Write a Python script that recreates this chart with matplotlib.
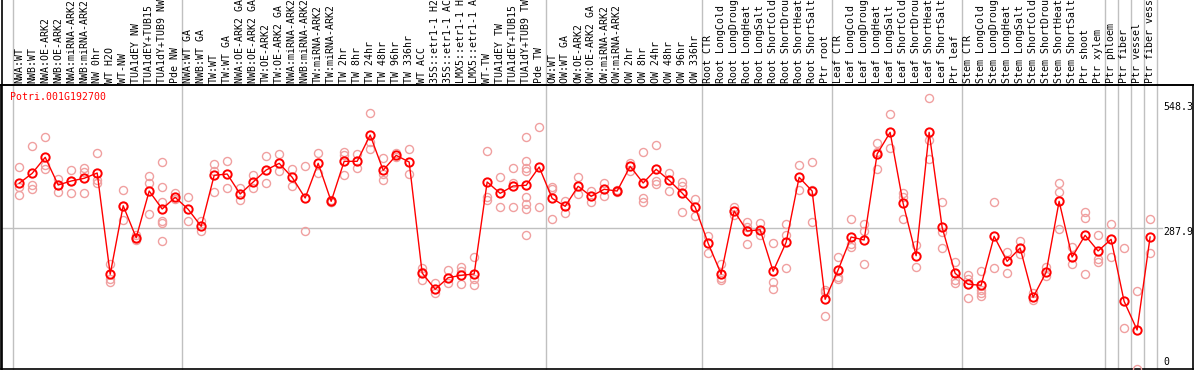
import numpy as np
import matplotlib
matplotlib.use("Agg")
import matplotlib.pyplot as plt
from matplotlib.lines import Line2D
import matplotlib.transforms as mtransforms

# ---- data ----
gene_id = "Potri.001G192700"

labels = [
    "NWA:WT", "NWB:WT", "NWA:OE-ARK2", "NWB:OE-ARK2", "NWA:miRNA-ARK2", "NWB:miRNA-ARK2",
    "NW 0hr", "WT H2O", "WT-NW", "TUA1dEY NW", "TUA1dEY+TUB15 NW", "TUA1dY+TUB9 NW", "Pde NW",
    "NWA:WT GA", "NWB:WT GA", "TW:WT", "TW:WT GA", "NWA:OE-ARK2 GA", "NWB:OE-ARK2 GA",
    "TW:OE-ARK2", "TW:OE-ARK2 GA", "NWA:miRNA-ARK2 GA", "NWB:miRNA-ARK2 GA", "TW:miRNA-ARK2",
    "TW:miRNA-ARK2 GA", "TW 2hr", "TW 8hr", "TW 24hr", "TW 48hr", "TW 96hr", "TW 336hr",
    "WT ACC", "35S::etr1-1 H2O", "35S::etr1-1 ACC", "LMX5::etr1-1 H2O", "LMX5::etr1-1 ACC",
    "WT-TW", "TUA1dEY TW", "TUA1dEY+TUB15 TW", "TUA1dY+TUB9 TW", "Pde TW",
    "OW:WT", "OW:WT GA", "OW:OE-ARK2", "OW:OE-ARK2 GA", "OW:miRNA-ARK2", "OW:miRNA-ARK2 GA",
    "OW 2hr", "OW 8hr", "OW 24hr", "OW 48hr", "OW 96hr", "OW 336hr",
    "Root CTR", "Root LongCold", "Root LongDrought", "Root LongHeat", "Root LongSalt",
    "Root ShortCold", "Root ShortDrought", "Root ShortHeat", "Root ShortSalt", "Ptr root",
    "Leaf CTR", "Leaf LongCold", "Leaf LongDrought", "Leaf LongHeat", "Leaf LongSalt",
    "Leaf ShortCold", "Leaf ShortDrought", "Leaf ShortHeat", "Leaf ShortSalt", "Ptr leaf",
    "Stem CTR", "Stem LongCold", "Stem LongDrought", "Stem LongHeat", "Stem LongSalt",
    "Stem ShortCold", "Stem ShortDrought", "Stem ShortHeat", "Stem ShortSalt", "Ptr shoot",
    "Ptr xylem", "Ptr phloem", "Ptr fiber", "Ptr vessel", "Ptr fiber vessel",
]

# number of samples in each group (grey separators between groups)
group_sizes = [13, 28, 12, 10, 10, 11, 1, 1, 1, 1]

means = [
    378.0, 398.0, 430.0, 374.6, 382.6, 388.0, 398.6, 195.7, 333.1, 269.0,
    362.5, 326.5, 349.9, 325.9, 291.8, 394.0, 396.6, 356.5, 380.6, 404.6,
    418.0, 390.0, 348.5, 418.0, 341.9, 422.0, 422.0, 474.7, 404.0, 434.0,
    420.6, 198.3, 165.6, 188.9, 193.7, 196.3, 380.6, 357.9, 372.6, 374.0,
    410.6, 347.9, 331.9, 372.0, 351.9, 366.0, 362.5, 412.0, 378.6, 406.0,
    384.0, 358.5, 330.5, 257.8, 196.3, 322.5, 282.4, 285.0, 201.7, 259.8,
    390.0, 362.5, 145.6, 204.3, 270.4, 264.4, 436.7, 480.1, 337.9, 232.9,
    480.1, 289.8, 197.7, 175.7, 173.7, 271.8, 221.7, 248.4, 149.6, 199.7,
    341.9, 230.3, 273.8, 242.4, 265.8, 141.6, 84.1, 270.4,
]

replicates = [
    [410.0, 370.0, 354.5], [452.7, 374.6, 366.0], [470.7, 414.0, 406.0],
    [386.6, 374.6, 361.1], [404.6, 382.6, 357.9], [409.2, 401.2, 357.9],
    [438.1, 384.6, 378.0], [216.3, 186.3, 180.9], [364.5, 332.5, 303.9],
    [274.4, 269.0, 264.4], [392.6, 378.0, 315.9],
    [420.6, 370.0, 340.5, 303.1, 297.8, 262.4],
    [357.9, 345.9], [351.1, 302.5], [303.1, 282.4], [416.6, 403.2, 359.9],
    [422.6, 368.0], [368.0, 344.5], [394.6, 368.0], [432.6, 378.0],
    [436.7, 402.6], [406.6, 373.2], [412.6, 282.4], [438.1, 399.2],
    [344.0, 341.0, 340.0], [441.3, 434.7, 394.6], [436.7, 408.0],
    [518.2, 460.1, 446.1], [428.0, 396.6, 384.0], [439.3, 431.2],
    [446.1, 396.6], [207.7, 200.9, 183.7], [178.9, 157.6], [204.3, 177.7],
    [209.7, 202.9, 175.7], [230.9, 185.7, 173.7], [442.7, 351.1, 344.5],
    [390.0, 329.9], [408.0, 379.2, 329.9],
    [470.1, 422.6, 408.0, 402.6, 351.1, 335.9, 325.9, 274.4],
    [490.1, 331.1], [371.2, 366.0, 305.9], [343.1, 319.1], [390.0, 355.9],
    [363.1, 341.1], [379.2, 353.1], [364.0, 362.0, 361.0], [419.2, 403.2],
    [440.1, 347.9, 341.1], [454.7, 382.6, 376.0], [399.2, 362.5],
    [381.2, 372.6, 319.9], [346.5, 313.1], [272.4, 239.0],
    [215.7, 188.3, 184.3], [329.9, 314.5], [301.1, 290.4, 255.8],
    [297.8, 274.4], [257.8, 180.9, 165.6], [296.4, 274.4, 207.7],
    [414.6, 364.5], [420.0, 364.5, 299.8], [164.2, 160.2, 111.6],
    [229.7, 190.9, 185.7], [306.5, 256.4, 249.8], [296.4, 282.4, 216.3],
    [458.1, 441.3, 406.0], [516.8, 448.1], [357.9, 351.1, 306.5],
    [254.4, 209.7], [548.3, 464.7, 426.0], [339.9, 281.0, 247.8],
    [220.9, 184.3, 178.9], [194.3, 185.7, 147.6],
    [202.9, 164.2, 157.6, 152.2], [339.9, 207.7], [239.8, 197.7],
    [262.4, 235.8], [157.6, 144.2], [210.9, 192.3], [378.0, 359.9, 285.8],
    [251.0, 215.7], [319.9, 307.9, 196.3], [274.4, 225.7, 219.7],
    [296.4, 229.7], [247.8, 87.5], [162.2, 5.4], [306.5, 237.8],
]

ytick_vals = [548.3, 287.9, 0]
ytick_text = ["548.3", "287.9", "0"]

# ---- figure ----
W, H = 1194, 370
fig = plt.figure(figsize=(W / 100, H / 100), dpi=100)
# plot box in pixels: x 1..1193, y 85..369 (from top)
ax = fig.add_axes([1 / W, 1 / H, 1192 / W, 284 / H])

mono = "DejaVu Sans Mono"
red = "#ff0000"
pink = "#f0a0a0"
grey = "#c0c0c0"

x = np.arange(len(means))

# replicates
for i, reps in enumerate(replicates):
    ax.plot([x[i]] * len(reps), reps, linestyle="none", marker="o", ms=5.8,
            mfc="none", mec=pink, mew=1.0, zorder=3)

# mean line + markers
ax.plot(x, means, color=red, lw=1.0, zorder=4)
ax.plot(x, means, linestyle="none", marker="o", ms=6.0, mfc="none",
        mec=red, mew=1.4, zorder=5)

ax.set_xlim(-1.4, 90.3)
ax.set_ylim(6.0, 574.9)

# group separators, running up through the header
bounds = np.concatenate([[0], np.cumsum(group_sizes)]) - 0.5
for b in bounds:
    ax.axvline(b, ymin=0, ymax=369 / 284, color=grey, lw=1.0, clip_on=False, zorder=1)

# single horizontal guide
ax.axhline(287.9, xmin=0, xmax=1161 / 1192, color=grey, lw=1.0, zorder=1)

# right-hand value labels (pixel nudges so that the end labels stay inside the box)
nudge = {"548.3": -9, "287.9": -4, "0": 10}
lab_tr = mtransforms.blended_transform_factory(ax.transAxes, ax.transData)
for v, t in zip(ytick_vals, ytick_text):
    tr = mtransforms.offset_copy(lab_tr, fig=fig, x=0, y=nudge[t] * 0.72, units="points")
    ax.text(1162 / 1192, v, t, transform=tr, ha="left", va="center",
            fontsize=7.1, family=mono, color="black")

# gene id
ax.text(9 / 1192, 0.958, gene_id, transform=ax.transAxes, ha="left", va="center",
        fontsize=7.1, family=mono, color=red)

# sample labels on top, rotated
ax.xaxis.tick_top()
ax.set_xticks(x)
ax.set_xticklabels(labels, rotation=90, family=mono, fontsize=7.1)
ax.tick_params(axis="x", length=0, pad=1.5)
ax.set_yticks([])

for s in ax.spines.values():
    s.set_color("black")
    s.set_linewidth(1.2)

# left border reaches the top of the image, top rule spans full width
fig.add_artist(Line2D([1.5 / W, 1.5 / W], [0, 1], transform=fig.transFigure,
                      color="black", lw=1.2))
fig.add_artist(Line2D([0, 1], [1 - 85 / H, 1 - 85 / H], transform=fig.transFigure,
                      color="black", lw=1.2))

fig.savefig("out.png", dpi=100)
